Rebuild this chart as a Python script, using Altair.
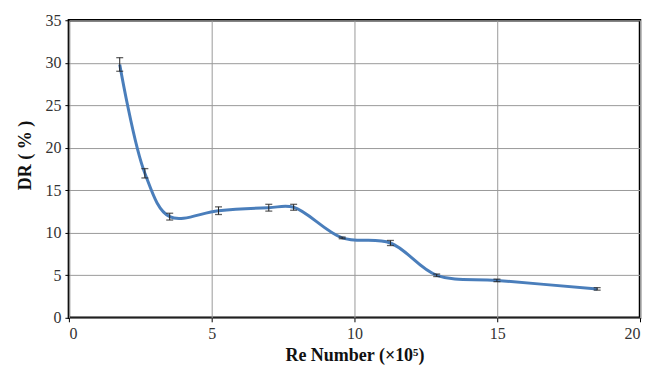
import altair as alt
import pandas as pd

re_number = [1.78, 2.66, 3.53, 5.24, 7.0, 7.87, 9.57, 11.26, 12.88, 14.99, 18.5]
dr = [29.8, 17.0, 11.9, 12.6, 12.95, 13.0, 9.4, 8.8, 5.0, 4.4, 3.4]
err = [0.8, 0.55, 0.4, 0.45, 0.4, 0.35, 0.1, 0.3, 0.15, 0.15, 0.15]

df = pd.DataFrame({"x": re_number, "y": dr, "e": err})
df["lo"] = df["y"] - df["e"]
df["hi"] = df["y"] + df["e"]

SERIF = "Liberation Serif"

xscale = alt.Scale(domain=[0, 20], nice=False)
yscale = alt.Scale(domain=[0, 35], nice=False)

xaxis = alt.Axis(values=[0, 5, 10, 15, 20], title="Re Number (×10⁵)", grid=True,
                 gridColor="#9a9a9a", gridWidth=1, domain=False, tickColor="#000",
                 tickSize=4, labelFontSize=16,
                 labelColor="#333", labelPadding=4,
                 titleFontSize=18, titleFontWeight="bold", titleColor="#111",
                 titlePadding=5)
yaxis = alt.Axis(values=[0, 5, 10, 15, 20, 25, 30, 35], title="DR ( % )", grid=True,
                 gridColor="#9a9a9a", gridWidth=1, domain=False, tickColor="#000",
                 tickSize=4, labelFontSize=16,
                 labelColor="#333", labelPadding=4,
                 titleFontSize=18, titleFontWeight="bold", titleColor="#111",
                 titlePadding=10, titleY=135)

base = alt.Chart(df)

line = base.mark_line(interpolate="catmull-rom", color="#4a7ebb", strokeWidth=3).encode(
    x=alt.X("x:Q", scale=xscale, axis=xaxis),
    y=alt.Y("y:Q", scale=yscale, axis=yaxis),
)

rules = base.mark_rule(color="#222", strokeWidth=1).encode(
    x=alt.X("x:Q", scale=xscale),
    y=alt.Y("lo:Q", scale=yscale),
    y2="hi:Q",
)

caps_hi = base.mark_tick(orient="horizontal", color="#222", size=7, thickness=1.3).encode(
    x=alt.X("x:Q", scale=xscale),
    y=alt.Y("hi:Q", scale=yscale),
)
caps_lo = base.mark_tick(orient="horizontal", color="#222", size=7, thickness=1.3).encode(
    x=alt.X("x:Q", scale=xscale),
    y=alt.Y("lo:Q", scale=yscale),
)

chart = alt.layer(line, rules, caps_hi, caps_lo).properties(
    width=572, height=298,
    autosize=alt.AutoSizeParams(type="none"),
    padding={"left": 61, "top": 12, "right": 4, "bottom": 50},
    background="white",
).configure(font=SERIF).configure_axis(
    labelFont=SERIF, titleFont=SERIF
).configure_view(stroke="#000", strokeWidth=2.5)

chart.save("out.html", embed_options={"renderer": "svg", "actions": False})
